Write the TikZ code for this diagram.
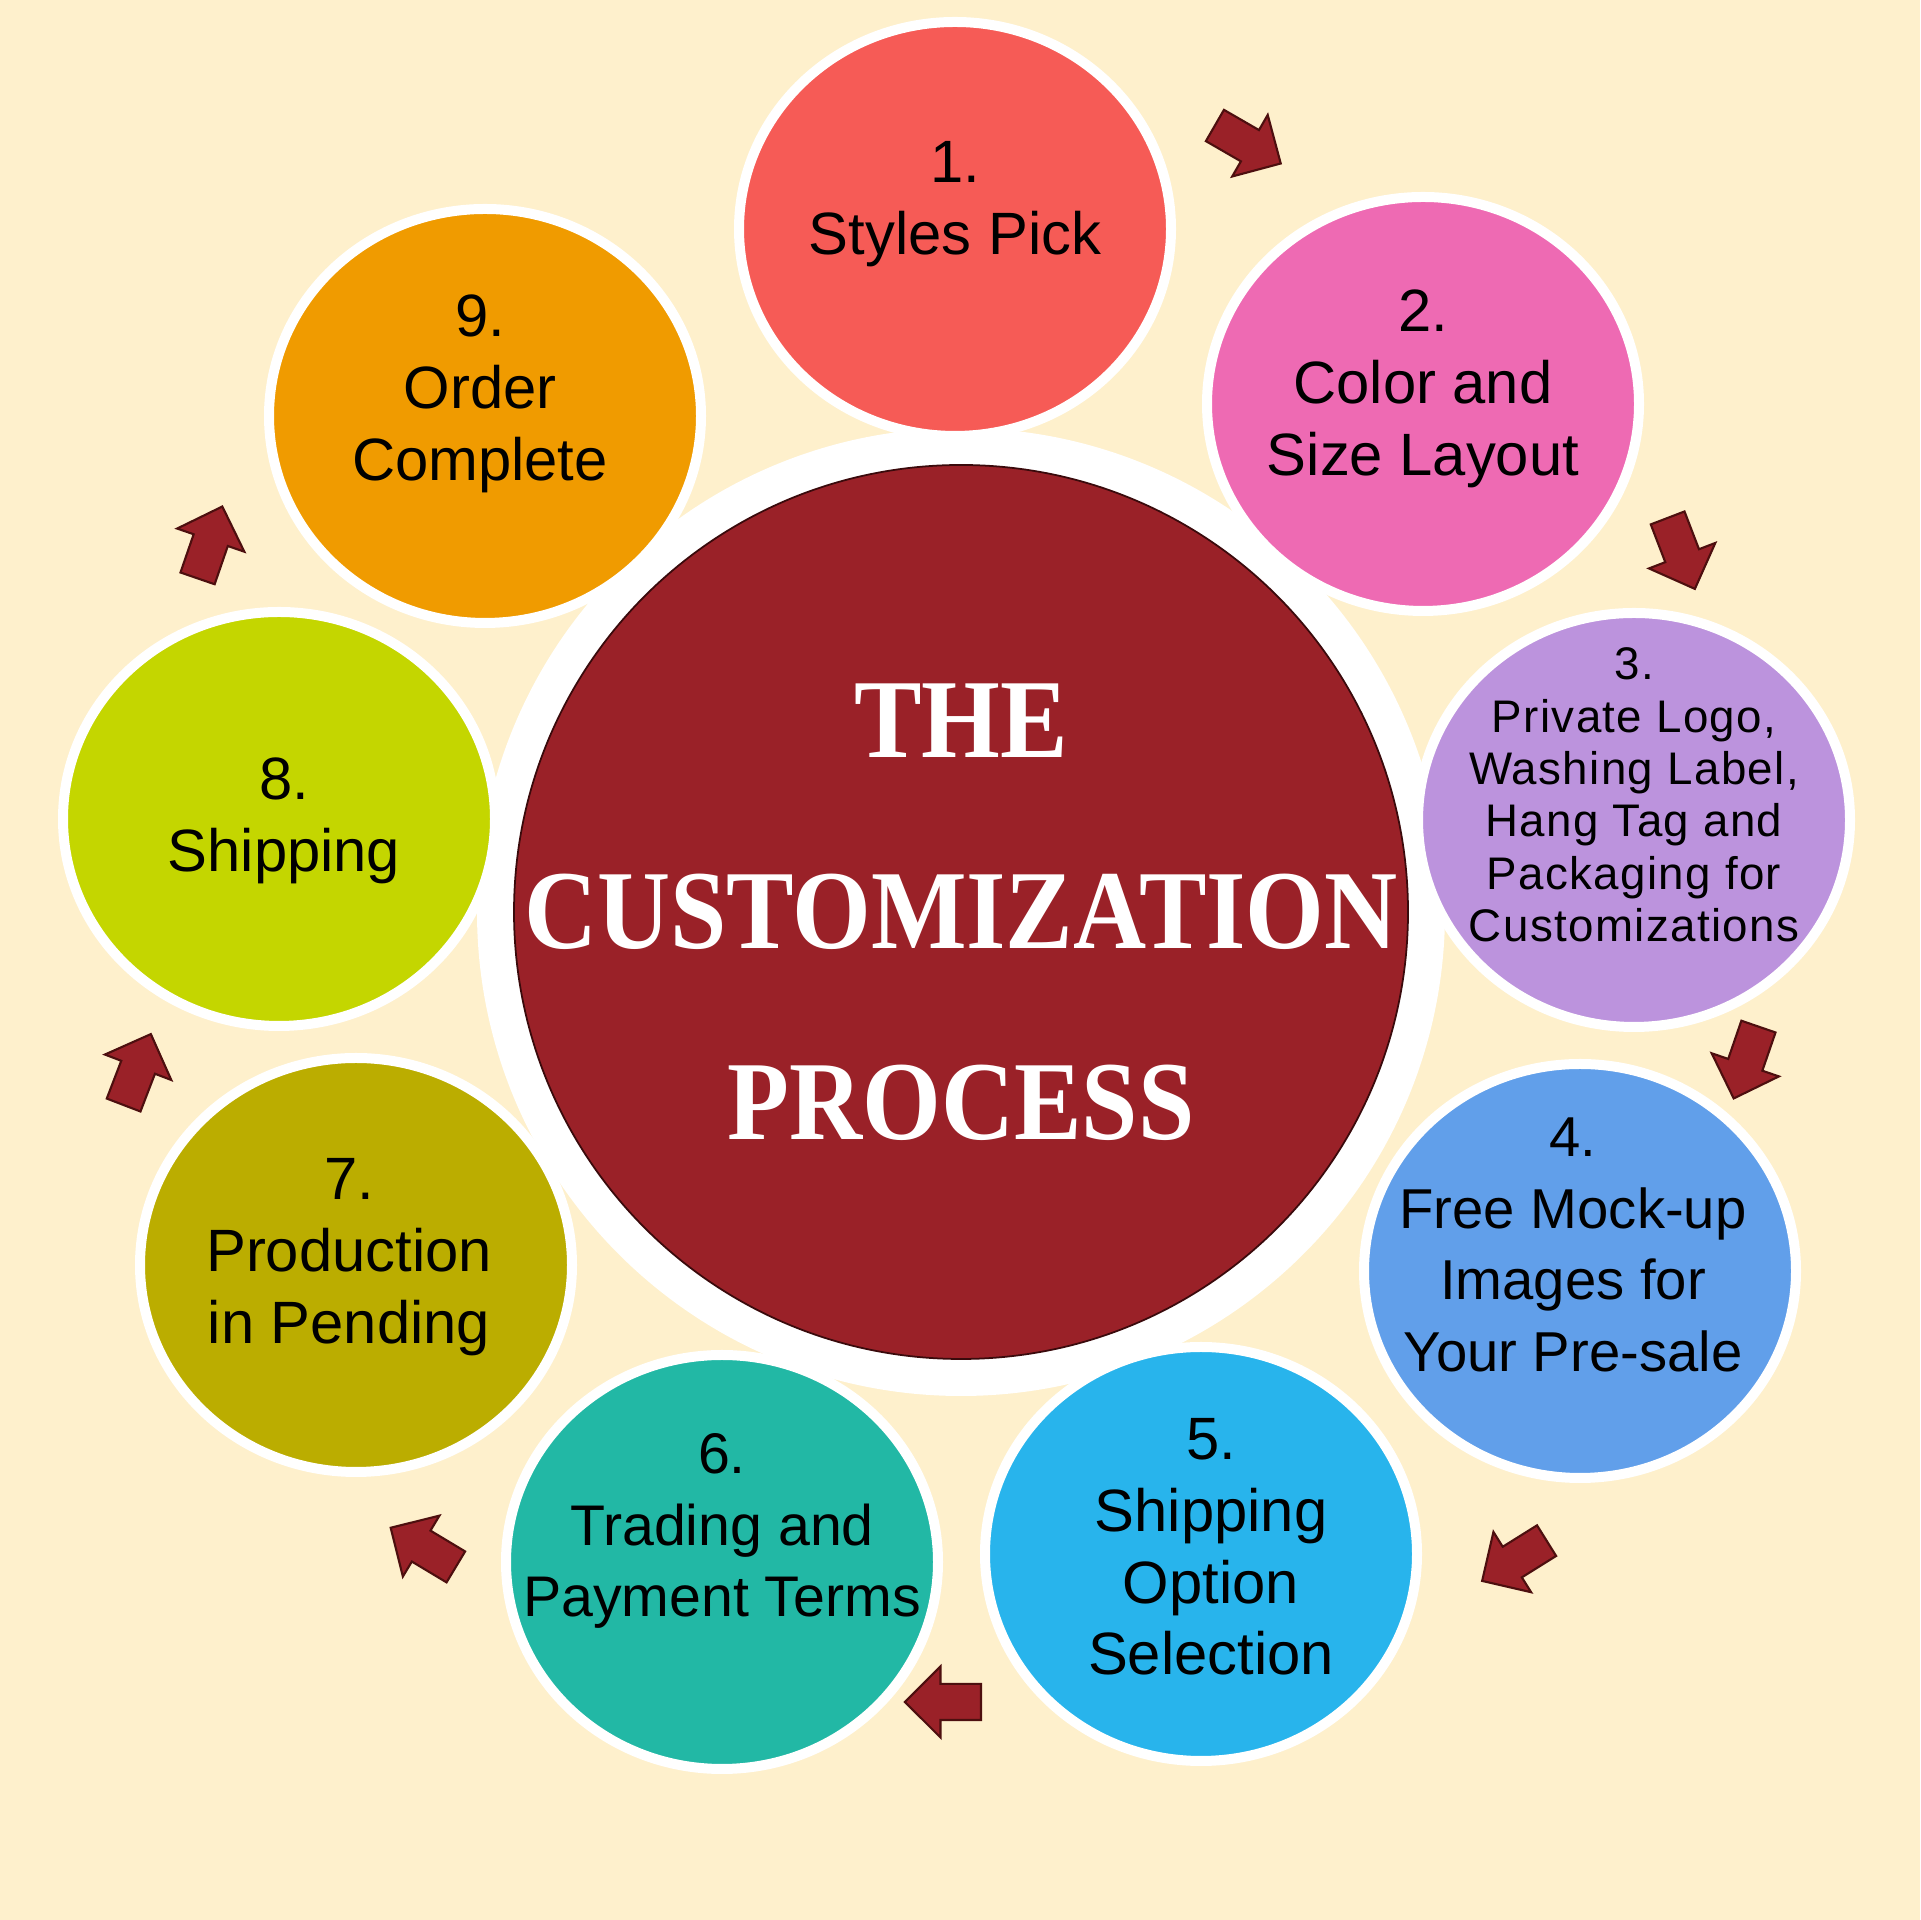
\documentclass[tikz,border=0pt]{standalone}
\usepackage{fontspec}
\setmainfont{Liberation Sans}
\newfontfamily\titlefont{Liberation Serif}[FakeStretch=0.9]
\newfontfamily\spacedfont{Liberation Sans}[LetterSpace=3]
\usetikzlibrary{shapes.geometric,shapes.arrows}

\definecolor{bgcream}{HTML}{FEF0CC}
\definecolor{hubred}{HTML}{9A2128}
\definecolor{hubedge}{HTML}{3A0A0C}
\definecolor{arrowred}{HTML}{9A2128}
\definecolor{arrowedge}{HTML}{4D0F0F}
\definecolor{stepA}{HTML}{F65B56}
\definecolor{stepB}{HTML}{EE6AB3}
\definecolor{stepC}{HTML}{BC93DD}
\definecolor{stepD}{HTML}{619FEA}
\definecolor{stepE}{HTML}{28B4EC}
\definecolor{stepF}{HTML}{22B8A5}
\definecolor{stepG}{HTML}{BBAD00}
\definecolor{stepH}{HTML}{C4D600}
\definecolor{stepI}{HTML}{F09B00}

\begin{document}
\begin{tikzpicture}[
    every node/.style={align=center},
    stepcirc/.style={
        ellipse,
        draw=white,
        line width=0.1cm,
        minimum width=4.32cm,
        minimum height=4.14cm,
        inner sep=0pt
    },
    steptext/.style={
        font=\fontsize{17}{20.4}\selectfont,
        text=black
    },
    flowarrow/.style={
        single arrow,
        draw=arrowedge,
        line width=0.6pt,
        fill=arrowred,
        minimum height=0.76cm,
        minimum width=0.68cm,
        single arrow head extend=0.175cm,
        inner xsep=0pt,
        inner ysep=0.17cm
    }
]

\fill[bgcream] (0,0) rectangle (19.2,19.2);

% centre disc with its white ring
\fill[white] (9.61,10.08) circle (4.84);
\node[circle, fill=hubred, draw=hubedge, line width=0.5pt, minimum size=8.94cm, inner sep=0pt] (hub) at (9.61,10.08) {};
\node[font=\titlefont\bfseries\fontsize{32}{54.3}\selectfont, text=white] (title) at (hub) {THE\\CUSTOMIZATION\\PROCESS};

% the nine steps
\node[stepcirc, fill=stepA] (s1) at (9.55,16.91) {};
\node[stepcirc, fill=stepB] (s2) at (14.23,15.16) {};
\node[stepcirc, fill=stepC] (s3) at (16.34,11.00) {};
\node[stepcirc, fill=stepD] (s4) at (15.80,6.49) {};
\node[stepcirc, fill=stepE] (s5) at (12.01,3.66) {};
\node[stepcirc, fill=stepF] (s6) at (7.22,3.58) {};
\node[stepcirc, fill=stepG] (s7) at (3.56,6.55) {};
\node[stepcirc, fill=stepH] (s8) at (2.79,11.01) {};
\node[stepcirc, fill=stepI] (s9) at (4.85,15.04) {};

\node[steptext] (t1) at ([yshift=0.25cm]s1) {1.\\Styles Pick};
\node[steptext] (t2) at ([yshift=0.15cm]s2) {2.\\Color and\\Size Layout};
\node[font=\spacedfont\fontsize{13}{14.9}\selectfont] (t3) at ([yshift=0.25cm]s3) {3.\\Private Logo,\\Washing Label,\\Hang Tag and\\Packaging for\\Customizations};
\node[steptext, font=\fontsize{16}{20.4}\selectfont] (t4) at ([xshift=-0.07cm, yshift=0.26cm]s4) {4.\\Free Mock-up\\Images for\\Your Pre-sale};
\node[steptext] (t5) at ([xshift=0.1cm, yshift=0.07cm]s5) {5.\\Shipping\\Option\\Selection};
\node[steptext, font=\fontsize{16.3}{20.4}\selectfont] (t6) at ([yshift=0.31cm]s6) {6.\\Trading and\\Payment Terms};
\node[steptext] (t7) at ([xshift=-0.07cm, yshift=0.08cm]s7) {7.\\Production\\in Pending};
\node[steptext] (t8) at ([xshift=0.05cm, yshift=-0.02cm]s8) {8.\\Shipping};
\node[steptext] (t9) at ([xshift=-0.05cm, yshift=0.22cm]s9) {9.\\Order\\Complete};

% block arrows between the steps
\node[flowarrow, rotate=-30] (a12) at (12.40,17.80) {};
\node[flowarrow, rotate=-69] (a23) at (16.78,13.75) {};
\node[flowarrow, rotate=-109] (a34) at (17.49,8.66) {};
\node[flowarrow, rotate=-148] (a45) at (15.22,3.64) {};
\node[flowarrow, rotate=180] (a56) at (9.52,2.18) {};
\node[flowarrow, rotate=149] (a67) at (4.31,3.68) {};
\node[flowarrow, rotate=69] (a78) at (1.34,8.42) {};
\node[flowarrow, rotate=71] (a89) at (2.07,13.69) {};

\end{tikzpicture}
\end{document}
